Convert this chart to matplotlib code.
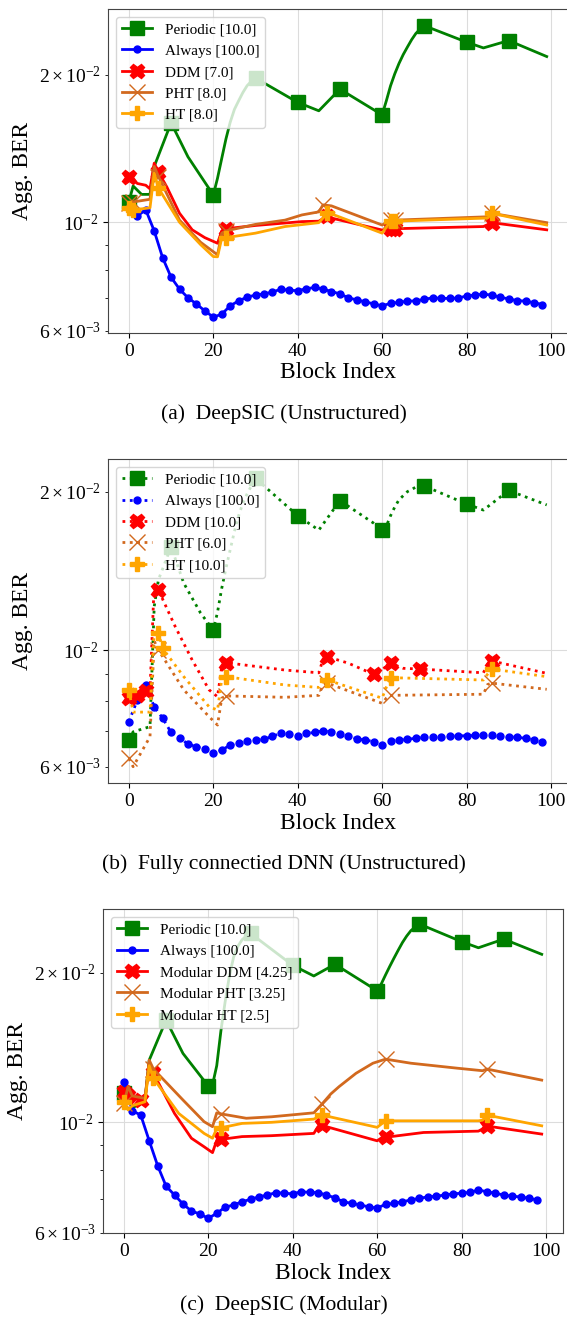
import matplotlib
matplotlib.use("Agg")
import matplotlib.pyplot as plt

plt.rcParams['font.family'] = ['Liberation Serif', 'DejaVu Serif']
plt.rcParams['mathtext.fontset'] = 'stix'

# ---------------- data ----------------
always_x = list(range(0, 100, 2))
periodic_marks = [0, 10, 20, 30, 40, 50, 60, 70, 80, 90]

# (a) DeepSIC (Unstructured)
a_periodic_x = [0, 1, 3, 5, 6, 10, 14, 20, 21, 22, 23, 24, 25, 26, 27, 28, 29, 30, 40, 45, 50,
                60, 61, 62, 63, 64, 65, 66, 67, 68, 69, 70, 80, 84, 90, 99]
a_periodic_y = [0.0110, 0.01186, 0.0114, 0.0114, 0.0130, 0.01596, 0.0136, 0.01137, 0.0123, 0.0135,
                0.0148, 0.0160, 0.0170, 0.0177, 0.0184, 0.0190, 0.0194, 0.0197, 0.01757, 0.01689,
                0.0187, 0.01657, 0.0177, 0.0190, 0.0201, 0.0211, 0.0220, 0.0228, 0.0236, 0.0243,
                0.0248, 0.0252, 0.02333, 0.0227, 0.0235, 0.0218]
a_always_y = [0.0107, 0.0103, 0.0106, 0.0096, 0.00846, 0.00772, 0.0073, 0.00701, 0.00681, 0.00659,
              0.0064, 0.00649, 0.00675, 0.00691, 0.00703, 0.0071, 0.00714, 0.0072, 0.0073, 0.00726,
              0.00725, 0.00731, 0.00736, 0.0073, 0.00722, 0.00714, 0.00701, 0.00694, 0.00688, 0.00681,
              0.00675, 0.00683, 0.00686, 0.0069, 0.00691, 0.00696, 0.00701, 0.00699, 0.00699, 0.007,
              0.00707, 0.0071, 0.00713, 0.0071, 0.00703, 0.00697, 0.00692, 0.0069, 0.00685, 0.00679]
a_ddm_x = [0, 2, 4, 5, 6, 7, 9, 12, 15, 18, 21, 22, 23, 30, 41, 45, 47, 48, 60, 62, 63, 84, 86, 99]
a_ddm_y = [0.0124, 0.0120, 0.0119, 0.0117, 0.0132, 0.01266, 0.0118, 0.01043, 0.00965, 0.0093,
           0.00906, 0.0096, 0.0097, 0.00985, 0.01003, 0.01005, 0.0103, 0.0102, 0.00964, 0.0097,
           0.0097, 0.0098, 0.00998, 0.00965]
a_ddm_marks = [0, 7, 23, 47, 62, 63, 86]
a_pht_x = [0, 1, 5, 6, 7, 12, 17, 21, 22, 23, 30, 37, 41, 45, 46, 48, 60, 62, 63, 85, 86, 99]
a_pht_y = [0.01094, 0.0110, 0.01114, 0.0130, 0.0124, 0.0101, 0.0091, 0.00858, 0.0095, 0.0096,
           0.0099, 0.0101, 0.01035, 0.0105, 0.01085, 0.0108, 0.00987, 0.0101, 0.0101, 0.01026,
           0.01043, 0.00998]
a_pht_marks = [0, 1, 7, 23, 46, 62, 63, 86]
a_ht_x = [0, 1, 5, 6, 7, 12, 17, 20, 21, 22, 23, 30, 37, 45, 47, 48, 60, 62, 63, 85, 86, 99]
a_ht_y = [0.01068, 0.0106, 0.0107, 0.01259, 0.01174, 0.0100, 0.0090, 0.00851, 0.0085, 0.00928,
          0.0093, 0.0095, 0.0098, 0.00998, 0.01043, 0.0104, 0.0095, 0.01005, 0.01005, 0.0102,
          0.01043, 0.00987]
a_ht_marks = [0, 1, 7, 23, 47, 62, 63, 86]
a_labels = ['Periodic [10.0]', 'Always [100.0]', 'DDM [7.0]', 'PHT [8.0]', 'HT [8.0]']

# (b) Fully connected DNN (Unstructured)
b_periodic_x = [0, 1, 5, 6, 7, 10, 13, 17, 20, 21, 22, 23, 24, 25, 26, 27, 28, 29, 30, 40, 45, 50,
                58, 60, 61, 62, 63, 64, 66, 68, 70, 80, 84, 90, 99]
b_periodic_y = [0.00675, 0.00699, 0.00715, 0.0121, 0.0136, 0.01572, 0.0134, 0.01175, 0.01091, 0.0118,
                0.0131, 0.0143, 0.0155, 0.0168, 0.0180, 0.0190, 0.0198, 0.0205, 0.0212, 0.0180,
                0.0169, 0.01923, 0.01742, 0.0169, 0.0172, 0.0180, 0.0187, 0.0193, 0.0200, 0.0204,
                0.0205, 0.01895, 0.01845, 0.0201, 0.01887]
b_always_y = [0.00731, 0.00803, 0.00858, 0.0078, 0.00742, 0.00697, 0.0068, 0.00663, 0.00655, 0.00647,
              0.00638, 0.00645, 0.0066, 0.00665, 0.00672, 0.00673, 0.00676, 0.00686, 0.00694, 0.00691,
              0.00686, 0.00694, 0.00697, 0.00702, 0.00699, 0.00692, 0.00686, 0.00678, 0.00674, 0.0067,
              0.00661, 0.00672, 0.00674, 0.00676, 0.0068, 0.00683, 0.00684, 0.00684, 0.00685, 0.00687,
              0.00687, 0.00688, 0.0069, 0.0069, 0.00685, 0.00683, 0.00683, 0.00679, 0.00674, 0.0067]
b_ddm_x = [0, 2, 4, 5, 6, 7, 11, 15, 19, 21, 22, 23, 37, 45, 46, 47, 52, 58, 61, 62, 65, 69,
           84, 85, 86, 99]
b_ddm_y = [0.00809, 0.00821, 0.00837, 0.00837, 0.0134, 0.0130, 0.01107, 0.00957, 0.0084, 0.00815,
           0.0093, 0.00946, 0.00916, 0.00905, 0.0096, 0.00971, 0.00944, 0.00899, 0.0093, 0.00944,
           0.00923, 0.0092, 0.00905, 0.0094, 0.00953, 0.00903]
b_ddm_marks = [0, 2, 4, 7, 23, 47, 58, 62, 69, 86]
b_pht_x = [0, 1, 5, 6, 7, 13, 19, 21, 22, 23, 37, 45, 46, 47, 60, 61, 62, 84, 85, 86, 99]
b_pht_y = [0.00622, 0.0060, 0.00684, 0.0104, 0.0100, 0.0084, 0.00747, 0.0072, 0.0081, 0.00818,
           0.00813, 0.0082, 0.0086, 0.00865, 0.00792, 0.0081, 0.0082, 0.00824, 0.0086, 0.00865,
           0.00842]
b_pht_marks = [0, 7, 23, 47, 62, 86]
b_ht_x = [0, 1, 5, 6, 7, 8, 13, 19, 21, 22, 23, 37, 45, 46, 47, 60, 61, 62, 84, 85, 86, 99]
b_ht_y = [0.00839, 0.00762, 0.00762, 0.0109, 0.01076, 0.01007, 0.0089, 0.0078, 0.00769, 0.0088,
          0.0089, 0.00858, 0.00849, 0.0087, 0.00877, 0.0081, 0.0085, 0.00886, 0.00877, 0.0090,
          0.0092, 0.0089]
b_ht_marks = [0, 7, 8, 23, 47, 62, 86]
b_labels = ['Periodic [10.0]', 'Always [100.0]', 'DDM [10.0]', 'PHT [6.0]', 'HT [10.0]']

# (c) DeepSIC (Modular)
c_periodic_x = [0, 1, 2, 4, 5, 6, 10, 14, 20, 21, 22, 23, 24, 25, 26, 27, 28, 29, 30, 40, 45, 50,
                60, 61, 62, 63, 64, 65, 66, 67, 68, 69, 70, 80, 84, 90, 99]
c_periodic_y = [0.01144, 0.0118, 0.0107, 0.0109, 0.0111, 0.01334, 0.01606, 0.01376, 0.01183, 0.0119,
                0.0130, 0.0153, 0.0175, 0.0197, 0.0215, 0.0226, 0.0233, 0.0237, 0.0240, 0.0207,
                0.0197, 0.0208, 0.0184, 0.0190, 0.0198, 0.0206, 0.0214, 0.0222, 0.0230, 0.0237,
                0.0243, 0.0247, 0.02506, 0.0231, 0.02245, 0.02337, 0.02178]
c_always_y = [0.01207, 0.01055, 0.01034, 0.00918, 0.00818, 0.00744, 0.00714, 0.00685, 0.00663, 0.00654,
              0.00641, 0.00656, 0.00675, 0.00682, 0.00692, 0.007, 0.00708, 0.00714, 0.00722, 0.0072,
              0.00718, 0.00725, 0.00723, 0.00722, 0.00714, 0.00705, 0.00692, 0.00687, 0.00682, 0.00676,
              0.00672, 0.00684, 0.00687, 0.00692, 0.00698, 0.00703, 0.00708, 0.0071, 0.00714, 0.00718,
              0.0072, 0.00723, 0.00731, 0.00725, 0.0072, 0.00714, 0.0071, 0.00708, 0.00703, 0.00698]
c_ddm_x = [0, 1, 2, 4, 5, 6, 7, 12, 16, 19, 21, 22, 23, 28, 35, 45, 46, 47, 48, 60, 61, 62, 71,
           84, 85, 86, 99]
c_ddm_y = [0.01152, 0.0113, 0.0112, 0.01109, 0.0111, 0.01315, 0.01255, 0.01042, 0.00929, 0.00893,
           0.00869, 0.0092, 0.00924, 0.00936, 0.0094, 0.0095, 0.0098, 0.00988, 0.0098, 0.00918,
           0.0093, 0.00933, 0.00954, 0.0096, 0.0097, 0.00983, 0.00947]
c_ddm_marks = [0, 1, 4, 7, 23, 47, 62, 86]
c_pht_x = [0, 1, 2, 5, 6, 7, 14, 19, 21, 22, 23, 29, 35, 45, 47, 49, 51, 55, 59, 62, 68, 79,
           85, 86, 99]
c_pht_y = [0.01092, 0.0118, 0.0113, 0.01117, 0.01334, 0.0128, 0.01109, 0.01003, 0.0098, 0.01045,
           0.0104, 0.01019, 0.01026, 0.01045, 0.0109, 0.0114, 0.0118, 0.01255, 0.01315, 0.0134,
           0.01315, 0.01285, 0.0127, 0.0128, 0.01216]
c_pht_marks = [0, 7, 23, 47, 62, 86]
c_ht_x = [0, 1, 2, 5, 6, 7, 13, 19, 21, 22, 23, 28, 35, 45, 47, 60, 62, 84, 85, 86, 99]
c_ht_y = [0.0110, 0.01059, 0.0108, 0.0110, 0.0130, 0.01226, 0.01042, 0.0095, 0.00929, 0.00972,
          0.00975, 0.00995, 0.0100, 0.01015, 0.01034, 0.00977, 0.01007, 0.01007, 0.0101, 0.01034,
          0.00984]
c_ht_marks = [0, 7, 23, 47, 62, 86]
c_labels = ['Periodic [10.0]', 'Always [100.0]', 'Modular DDM [4.25]',
            'Modular PHT [3.25]', 'Modular HT [2.5]']

captions = ['(a)  DeepSIC (Unstructured)',
            '(b)  Fully connectied DNN (Unstructured)',
            '(c)  DeepSIC (Modular)']

# ---------------- drawing ----------------
W, H = 567, 1323
fig = plt.figure(figsize=(W / 100, H / 100), dpi=100)


def idx(xs, marks):
    return [xs.index(m) for m in marks]


def panel(rect, ylim, ls, per, alw, ddm, pht, ht, labels):
    ax = fig.add_axes(rect)
    lw = 2.0
    ax.plot(per[0], per[1], color='green', ls=ls, lw=lw, marker='s', ms=9.5,
            markevery=idx(per[0], periodic_marks), label=labels[0])
    ax.plot(always_x, alw, color='blue', ls=ls, lw=lw, marker='o', ms=5,
            label=labels[1])
    ax.plot(ddm[0], ddm[1], color='red', ls=ls, lw=lw, marker='X', ms=10.5,
            markevery=idx(ddm[0], ddm[2]), label=labels[2])
    ax.plot(pht[0], pht[1], color='chocolate', ls=ls, lw=lw, marker='x', ms=11,
            mew=1.0, markevery=idx(pht[0], pht[2]), label=labels[3])
    ax.plot(ht[0], ht[1], color='orange', ls=ls, lw=lw, marker='P', ms=10.5,
            markevery=idx(ht[0], ht[2]), label=labels[4])
    ax.set_yscale('log')
    ax.set_xlim(-4.95, 103.95)
    ax.set_ylim(*ylim)
    ax.grid(True, which='major', color='#dcdcdc', lw=0.8)
    ax.tick_params(axis='both', which='both', labelsize=14)
    ax.set_xlabel('Block Index', fontsize=17, labelpad=2)
    ax.set_ylabel('Agg. BER', fontsize=17)
    for s in ax.spines.values():
        s.set_color('#444444')
    ax.legend(loc='upper left', fontsize=11)
    return ax


axw = 459.6 / W
axh = 324.0 / H
ax_a = panel([108 / W, (H - 333) / H, axw, axh], (0.00594, 0.02726), '-',
             (a_periodic_x, a_periodic_y), a_always_y,
             (a_ddm_x, a_ddm_y, a_ddm_marks), (a_pht_x, a_pht_y, a_pht_marks),
             (a_ht_x, a_ht_y, a_ht_marks), a_labels)
ax_b = panel([108 / W, (H - 783.3) / H, axw, axh], (0.00558, 0.02304), ':',
             (b_periodic_x, b_periodic_y), b_always_y,
             (b_ddm_x, b_ddm_y, b_ddm_marks), (b_pht_x, b_pht_y, b_pht_marks),
             (b_ht_x, b_ht_y, b_ht_marks), b_labels)
ax_c = panel([103 / W, (H - 1233.3) / H, axw, axh], (0.00598, 0.02683), '-',
             (c_periodic_x, c_periodic_y), c_always_y,
             (c_ddm_x, c_ddm_y, c_ddm_marks), (c_pht_x, c_pht_y, c_pht_marks),
             (c_ht_x, c_ht_y, c_ht_marks), c_labels)

for ax in (ax_a, ax_b, ax_c):
    ax.yaxis.set_label_coords(-0.163, 0.5)

for cy, cap in zip([414, 864, 1305], captions):
    fig.text(0.5, 1 - cy / H, cap, ha='center', va='center', fontsize=15.5)

fig.savefig('out.png', dpi=100)
